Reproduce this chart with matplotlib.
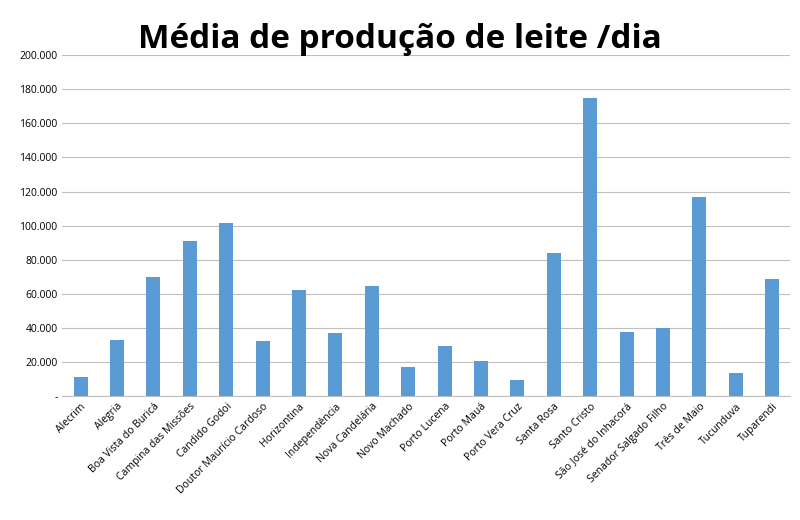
import matplotlib
matplotlib.use("Agg")
import matplotlib.pyplot as plt
from matplotlib.ticker import FuncFormatter

categories = ["Alecrim","Alegria","Boa Vista do Buricá","Campina das Missões","Candido Godoi",
 "Doutor Maurício Cardoso","Horizontina","Independência","Nova Candelária","Novo Machado",
 "Porto Lucena","Porto Mauá","Porto Vera Cruz","Santa Rosa","Santo Cristo",
 "São José do Inhacorá","Senador Salgado Filho","Três de Maio","Tucunduva","Tuparendi"]
values = [11100,32800,69800,90900,101500,32300,62200,37000,64500,17000,
          29300,20500,9400,83900,174800,37500,39900,116700,13500,68600]
title = "Média de produção de leite /dia"

plt.rcParams['font.family'] = ['Open Sans', 'DejaVu Sans']
fig = plt.figure(figsize=(8,5.2), dpi=100)
ax = fig.add_axes([0.078, 0.238, 0.91, 0.656])
x = range(len(categories))
ax.bar(x, values, width=0.38, color="#5B9BD5", zorder=3)
ax.set_ylim(0, 200000)
ax.set_xlim(-0.5, len(categories)-0.5)
ax.set_yticks(range(0, 200001, 20000))
ax.yaxis.set_major_formatter(FuncFormatter(lambda v, p: "-" if v == 0 else f"{int(v):,}".replace(",", ".")))
ax.grid(axis="y", color="#BFBFBF", linewidth=0.8, zorder=0)
ax.set_xticks(list(x))
ax.set_xticklabels(categories, rotation=45, ha="right", rotation_mode="anchor", fontsize=7.5)
ax.tick_params(axis="y", labelsize=7.5, length=0)
ax.tick_params(axis="x", length=0)
for s in ["top","right","left"]:
    ax.spines[s].set_visible(False)
ax.spines["bottom"].set_color("#BFBFBF")
fig.text(0.5, 0.925, title, ha="center", va="center", fontsize=24, fontweight="bold")
fig.savefig("out.png")
